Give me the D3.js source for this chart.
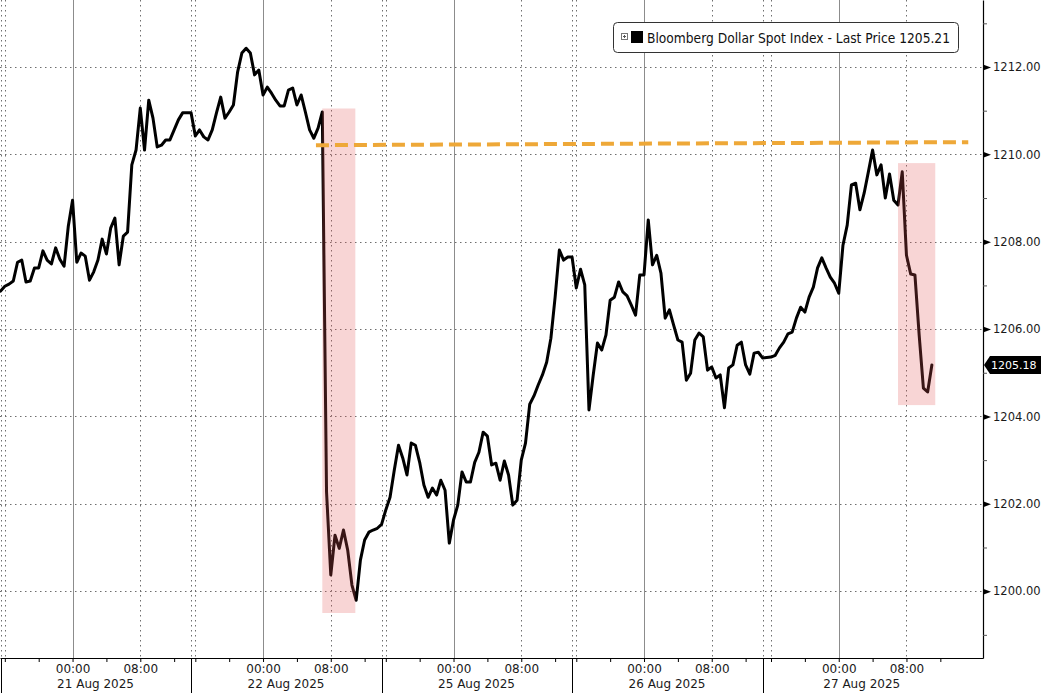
<!DOCTYPE html>
<html><head><meta charset="utf-8">
<script src="https://cdn.jsdelivr.net/npm/d3@7"></script>
<style>
html,body{margin:0;padding:0;background:#fff;}
svg{display:block;}
text{font-family:"DejaVu Sans",Verdana,sans-serif;}
</style></head><body>
<svg id="chart" width="1041" height="693"></svg>
<script>
// ---- data ----
const sessionLabels = ["21 Aug 2025", "22 Aug 2025", "25 Aug 2025", "26 Aug 2025", "27 Aug 2025"];
const sessionOpenHour = 16;                 // each session opens 16:00 the previous evening
const sessionLengthH = 22;                  // hours per session
const sessionBreakH = [0.5, 0.5, 0.5, 0.5, 1.0]; // display break before each session
const sampleStepH = 0.5;                    // 30-minute samples
const prevClose = 1206.87;                  // last print of 20 Aug session

const s21 = [1206.98,1207.03,1207.10,1207.53,1207.58,1207.08,1207.10,1207.40,1207.40,1207.79,
             1207.58,1207.49,1207.86,1207.60,1207.44,1208.36,1208.95,1207.53,1207.74,1207.67,
             1207.12,1207.31,1207.58,1208.06,1207.72,1208.31,1208.54,1207.47,1208.13,1208.22,
             1209.76,1210.10,1211.06,1210.10,1211.24,1210.83,1210.17,1210.21,1210.33,1210.33,
             1210.56,1210.79,1210.95,1210.95,1210.95];
const s22 = [1210.42,1210.56,1210.40,1210.33,1210.56,1210.95,1211.31,1210.83,1210.97,1211.13,
             1211.89,1212.32,1212.43,1212.32,1211.82,1211.93,1211.36,1211.54,1211.40,1211.24,
             1211.11,1211.11,1211.47,1211.52,1211.13,1211.36,1210.97,1210.56,1210.37,1210.60,
             1210.97,1202.27,1200.37,1201.28,1200.98,1201.40,1200.94,1200.14,1199.79,1200.71,
             1201.17,1201.35,1201.40,1201.44,1201.53];
const s25 = [1201.86,1202.15,1202.77,1203.34,1203.05,1202.66,1203.39,1203.34,1202.95,1202.43,
             1202.15,1202.36,1202.20,1202.54,1202.31,1201.10,1201.63,1201.97,1202.73,1202.50,
             1202.50,1202.95,1203.18,1203.64,1203.55,1202.89,1202.93,1202.54,1202.98,1202.66,
             1201.97,1202.08,1203.00,1203.39,1204.28,1204.47,1204.72,1204.95,1205.24,1205.79,
             1206.73,1207.81,1207.58,1207.65,1207.65];
const s26 = [1206.94,1207.37,1207.01,1204.15,1204.95,1205.68,1205.52,1205.86,1206.66,1206.73,
             1207.08,1206.85,1206.76,1206.55,1206.32,1207.24,1207.24,1208.50,1207.47,1207.69,
             1207.28,1206.25,1206.44,1206.09,1205.75,1205.70,1204.83,1204.99,1205.75,1205.91,
             1205.82,1205.06,1205.13,1204.88,1204.95,1204.20,1205.11,1205.18,1205.63,1205.70,
             1205.18,1204.97,1205.45,1205.47,1205.34];
const s27 = [1205.36,1205.40,1205.57,1205.70,1205.89,1205.93,1206.25,1206.50,1206.39,1206.73,
             1206.96,1207.40,1207.63,1207.40,1207.19,1207.05,1206.82,1207.92,1208.38,1209.30,
             1209.34,1208.73,1209.11,1209.60,1210.10,1209.53,1209.76,1209.00,1209.55,1208.95,
             1208.84,1209.60,1207.69,1207.26,1207.24,1205.86,1204.65,1204.56,1205.18];

const yMajorTicks = [1200, 1202, 1204, 1206, 1208, 1210, 1212];
const yMinorTicks = [1199, 1201, 1203, 1205, 1207, 1209, 1211, 1213];
const hourTicks = [0, 4, 8, 12, 16, 20];          // hours after session open
const hourLabels = {8: "00:00", 16: "08:00"};
const legendLabel = "Bloomberg Dollar Spot Index - Last Price 1205.21";
const highlights = [
  {session: 1, fromH: 15.0, toH: 18.9, hi: 1211.05, lo: 1199.50},
  {session: 4, fromH: 15.0, toH: 19.4, hi: 1209.80, lo: 1204.26}
];
const refLevel = {fromSession: 1, fromH: 14.25, toSession: 4, toH: 23.3, v0: 1210.21, v1: 1210.28};
const xDomain = [-0.57, 115.54];
const yDomain = [1198.47, 1213.534];

// ---- build ----
const W = 1041, H = 693, plotR = 983, plotB = 658;
const svg = d3.select("#chart");
const seriesBySession = [s21, s22, s25, s26, s27];
let base = 0;
const sessions = sessionLabels.map((label, k) => {
  if (k > 0) base += sessionLengthH + sessionBreakH[k];
  return {label, base, values: seriesBySession[k]};
});
const data = [{h: -sessionBreakH[0], v: prevClose}].concat(
  sessions.flatMap(s => s.values.map((v, i) => ({h: s.base + i * sampleStepH, v}))));

const x = d3.scaleLinear().domain(xDomain).range([0, plotR]);
const y = d3.scaleLinear().domain(yDomain).range([plotB, 0]);

const grid = svg.append("g");
// horizontal dotted grid
grid.selectAll("line.hg").data(yMajorTicks).join("line")
  .attr("x1", 0).attr("x2", plotR)
  .attr("y1", d => Math.round(y(d)) + 0.5).attr("y2", d => Math.round(y(d)) + 0.5)
  .attr("stroke", "#6e6e6e").attr("stroke-width", 1).attr("stroke-dasharray", "1.5,3.5");

// vertical lines
const vSolid = sessions.map(s => s.base + 8);
const vDot = sessions.map(s => s.base + 16);
const breaks = [-sessionBreakH[0]];
sessions.forEach((s, k) => { breaks.push(s.base); if (k < sessions.length - 1) breaks.push(s.base + sessionLengthH); });
grid.selectAll("line.vs").data(vSolid).join("line")
  .attr("x1", d => Math.round(x(d)) + 0.5).attr("x2", d => Math.round(x(d)) + 0.5)
  .attr("y1", 0).attr("y2", plotB).attr("stroke", "#8c8c8c").attr("stroke-width", 1);
grid.selectAll("line.vd").data(vDot.concat(breaks)).join("line")
  .attr("x1", d => Math.round(x(d)) + 0.5).attr("x2", d => Math.round(x(d)) + 0.5)
  .attr("y1", 0).attr("y2", plotB).attr("stroke", "#6e6e6e").attr("stroke-width", 1)
  .attr("stroke-dasharray", "1.5,3.5");

// price line
svg.append("path").datum(data)
  .attr("fill", "none").attr("stroke", "#000").attr("stroke-width", 3)
  .attr("stroke-linejoin", "round").attr("stroke-linecap", "round")
  .attr("d", d3.line().x(d => x(d.h)).y(d => y(d.v)));

// highlight boxes
svg.selectAll("rect.hl").data(highlights).join("rect")
  .attr("x", d => x(sessions[d.session].base + d.fromH))
  .attr("width", d => x(sessions[d.session].base + d.toH) - x(sessions[d.session].base + d.fromH))
  .attr("y", d => y(d.hi)).attr("height", d => y(d.lo) - y(d.hi))
  .attr("fill", "rgb(228,88,88)").attr("fill-opacity", 0.25);

// reference level
svg.append("line")
  .attr("x1", x(sessions[refLevel.fromSession].base + refLevel.fromH))
  .attr("x2", x(sessions[refLevel.toSession].base + refLevel.toH))
  .attr("y1", y(refLevel.v0)).attr("y2", y(refLevel.v1))
  .attr("stroke", "#eea838").attr("stroke-width", 4).attr("stroke-dasharray", "13,6");

// bottom axis
const tickHours = sessions.flatMap(s => hourTicks.map(t => s.base + t));
const xAxis = d3.axisBottom(x).tickValues(tickHours).tickSize(4).tickSizeOuter(0)
  .tickFormat(h => { const s = sessions.filter(ss => ss.base <= h + 1e-6).pop(); return hourLabels[Math.round(h - s.base)] || ""; });
const gx = svg.append("g").attr("transform", `translate(0,${plotB})`).call(xAxis);
gx.select(".domain").attr("stroke", "#000").attr("stroke-width", 1);
gx.selectAll(".tick line").attr("stroke", "#000");
gx.selectAll(".tick text").attr("y", 15).attr("dy", 0)
  .attr("font-family", '"DejaVu Sans",Verdana,sans-serif').attr("font-size", 12).attr("fill", "#1a1a1a");
// session separators below axis
const seps = [-sessionBreakH[0]].concat(sessions.slice(0, -1).map(s => s.base + sessionLengthH));
svg.selectAll("line.sep").data(seps).join("line")
  .attr("x1", d => Math.round(x(d)) + 0.5).attr("x2", d => Math.round(x(d)) + 0.5)
  .attr("y1", plotB).attr("y2", H).attr("stroke", "#000").attr("stroke-width", 1);
// date labels
svg.selectAll("text.date").data(sessions).join("text")
  .attr("x", s => x(s.base + 8) + 23).attr("y", 688).attr("text-anchor", "middle")
  .attr("font-size", 12).attr("fill", "#1a1a1a").text(s => s.label);

// right axis
const gyMinor = svg.append("g").attr("transform", `translate(${plotR},0)`)
  .call(d3.axisRight(y).tickValues(yMinorTicks).tickSize(4).tickSizeOuter(0).tickFormat(""));
gyMinor.select(".domain").attr("stroke", "#000").attr("stroke-width", 1.2);
gyMinor.selectAll(".tick line").attr("stroke", "#555");
const gy = svg.append("g").attr("transform", `translate(${plotR},0)`)
  .call(d3.axisRight(y).tickValues(yMajorTicks).tickSize(0).tickPadding(10).tickFormat(d3.format(".2f")));
gy.select(".domain").remove();
gy.selectAll(".tick text").attr("font-family", '"DejaVu Sans",Verdana,sans-serif')
  .attr("font-size", 11.5).attr("fill", "#1a1a1a");
gy.selectAll(".tick").append("path").attr("d", "M0,-3L8,0L0,3Z").attr("fill", "#000");

// last price tag
const last = data[data.length - 1].v;
const ly = y(last);
svg.append("path")
  .attr("d", `M${plotR + 1},${ly} L${plotR + 7},${ly - 9} L${W},${ly - 9} L${W},${ly + 9} L${plotR + 7},${ly + 9} Z`)
  .attr("fill", "#000");
svg.append("text").attr("x", plotR + 8).attr("y", ly).attr("dy", "0.36em")
  .attr("font-size", 11).attr("fill", "#fff").text(d3.format(".2f")(last));

// legend
const lg = svg.append("g");
lg.append("rect").attr("x", 613.5).attr("y", 22.5).attr("width", 345).attr("height", 30).attr("rx", 4)
  .attr("fill", "#fff").attr("stroke", "#333");
lg.append("rect").attr("x", 621.5).attr("y", 33.5).attr("width", 6).attr("height", 6)
  .attr("fill", "#fff").attr("stroke", "#777");
lg.append("path").attr("d", "M623,36.5H626M624.5,35V38").attr("stroke", "#555");
lg.append("rect").attr("x", 631).attr("y", 31).attr("width", 12).attr("height", 12).attr("fill", "#000");
lg.append("text").attr("x", 647).attr("y", 42.5).attr("font-size", 13.5).attr("fill", "#111")
  .attr("textLength", 303).attr("lengthAdjust", "spacingAndGlyphs").text(legendLabel);
</script>
</body></html>
